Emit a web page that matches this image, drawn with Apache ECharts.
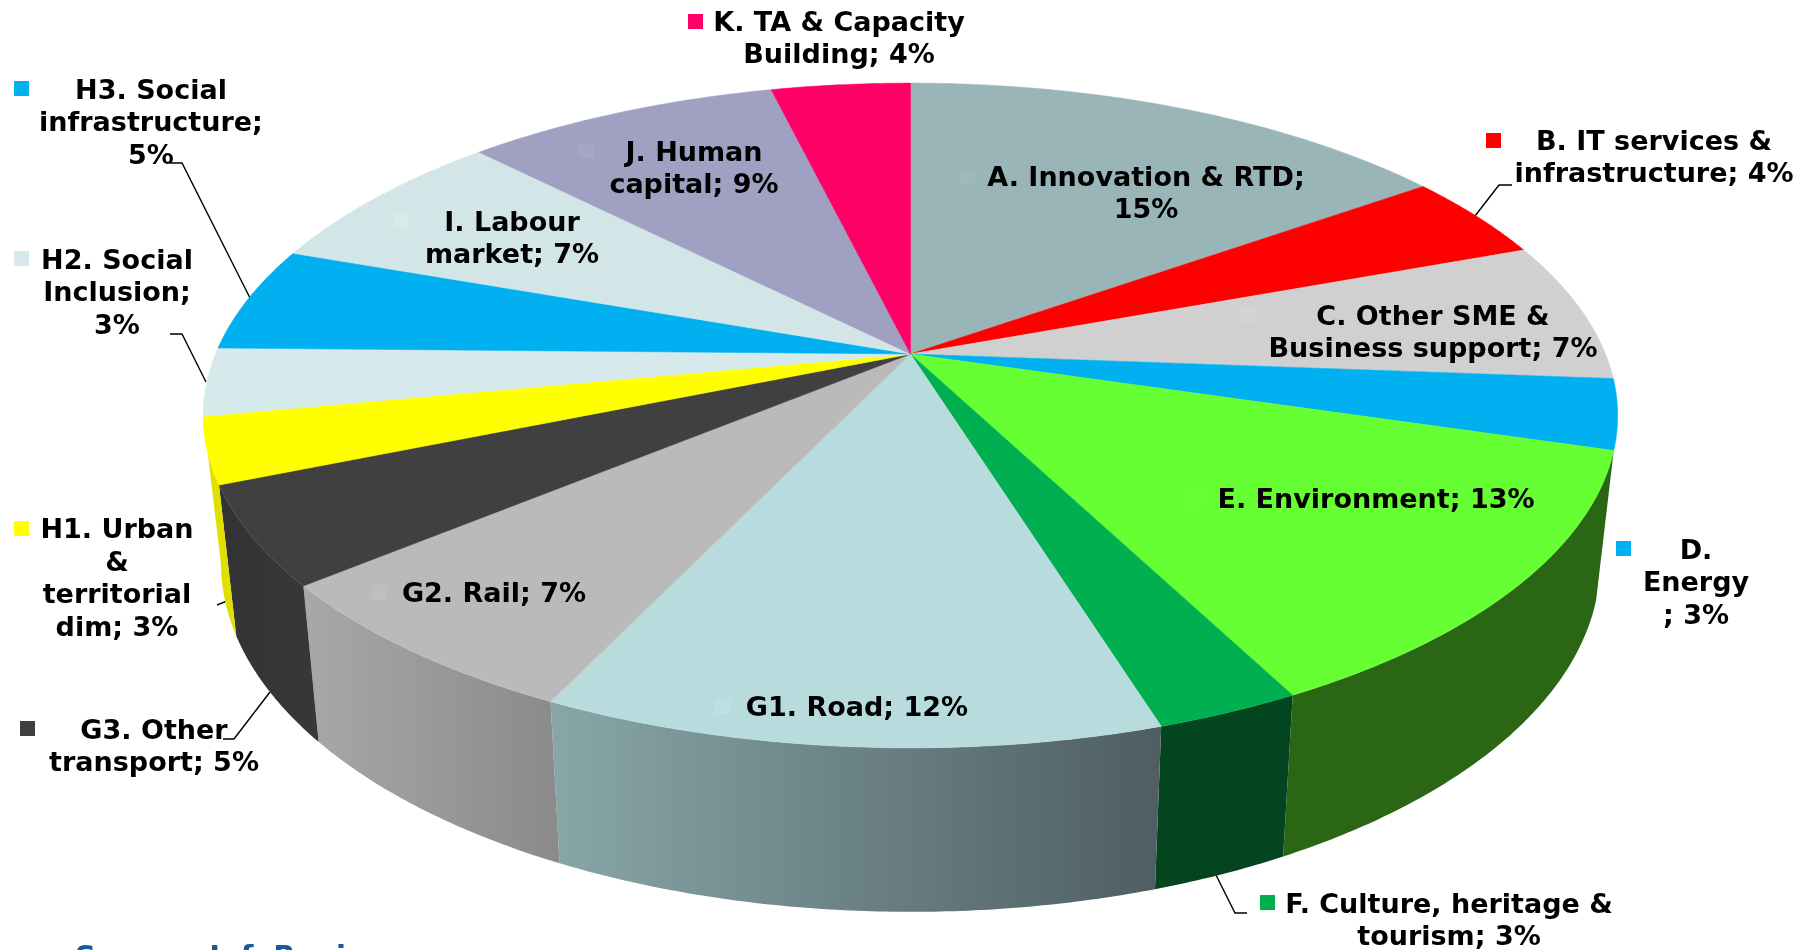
<!DOCTYPE html>
<html><head><meta charset="utf-8">
<style>html,body{margin:0;padding:0;background:#fff}#c{width:1814px;height:950px}</style>
<script src="https://cdn.jsdelivr.net/npm/echarts@6/dist/echarts.min.js"></script>
</head><body><div id="c"></div>
<script>
// ---- data ----
var categories = ['A. Innovation & RTD','B. IT services & infrastructure','C. Other SME & Business support','D. Energy','E. Environment','F. Culture, heritage & tourism','G1. Road','G2. Rail','G3. Other transport','H1. Urban & territorial dim','H2. Social Inclusion','H3. Social infrastructure','I. Labour market','J. Human capital','K. TA & Capacity Building'];
var shares = [15.2,4.2,6.8,3.4,12.8,2.8,11.9,6.9,4.8,3.2,3.3,5.1,7.2,8.6,3.8];
var labelTexts = ['A. Innovation & RTD;\n15%','B. IT services &\ninfrastructure; 4%','C. Other SME &\nBusiness support; 7%','D.\nEnergy\n; 3%','E. Environment; 13%','F. Culture, heritage &\ntourism; 3%','G1. Road; 12%','G2. Rail; 7%','G3. Other\ntransport; 5%','H1. Urban\n&\nterritorial\ndim; 3%','H2. Social\nInclusion;\n3%','H3. Social\ninfrastructure;\n5%','I. Labour\nmarket; 7%','J. Human\ncapital; 9%','K. TA & Capacity\nBuilding; 4%'];
var sourceNote = 'Source: InfoRegio';

// ---- styles and layout ----
var topColors = ['#99b5b7','#ff0000','#d0d0d0','#00b0f0','#66ff33','#00af50','#b8dcde','#bababa','#404040','#ffff00','#d6e9eb','#00b0f0','#d3e6e7','#a0a0c3','#ff0066'];
var keyColors = ['#9fb9bb','#ff0000','#d4d4d4','#00b0f0','#69ff36','#00af50','#bde0e2','#bfbfbf','#404040','#ffff00','#d6e9eb','#00b0f0','#d9eaea','#a5a5c6','#ff0066'];
var wallFrom = [null,null,null,null,'#2b6614','#03451f','#88a6a8','#a8a8a8','#333333','#e0e000',null,null,null,null,null];
var wallTo   = [null,null,null,null,'#2b6614','#03451f','#4e5e62','#8a8a8a','#383838','#e0e000',null,null,null,null,null];
var labelCenters = [[1146,195],[1654,159],[1433,334],[1696,584],[1376,501],[1449,922],[857,709],[494,595],[154,748],[117,580],[117,294],[151,124],[512,240],[694,170],[839,40]];
var keyBoxes = [[960,170],[1486,133],[1240,307],[1616,541],[1187,491],[1260,895],[715,699],[372,585],[20,721],[14,521],[14,251],[14,81],[393,213],[579,143],[688,14]];
var leaders = [
  [[170,163],[182,163],[250,298]],
  [[170,334],[182,334],[206,382]],
  [[217,605],[227,601]],
  [[223,739],[234,739],[270,692]],
  [[1512,185],[1499,185],[1475,216]],
  [[1247,913],[1235,913],[1215,873]]
];
var CX=910.5, CY=354, RX=695, RY=321, PERSP=0.185;
var WALL_SX=0.975, WALL_SY=1.05, WALL_DY=144.3;
var FONT='bold 27px "DejaVu Sans"';

var total = shares.reduce(function(a,b){return a+b;},0);
var cum=[0]; shares.forEach(function(v,i){cum.push(cum[i]+v);});
function topPt(a){ // a: clockwise from 12 o'clock, radians
  var u=Math.sin(a), v=-Math.cos(a), w=1-PERSP*v;
  return [CX+RX*u/w, CY+RY*v/w];
}
function botPt(p){ return [CX+(p[0]-CX)*WALL_SX, CY+WALL_DY+(p[1]-CY)*WALL_SY]; }
function arc(i){
  var a0=cum[i]/total*2*Math.PI, a1=cum[i+1]/total*2*Math.PI, n=Math.max(8,Math.ceil((a1-a0)*120)), r=[];
  for(var k=0;k<=n;k++) r.push(topPt(a0+(a1-a0)*k/n));
  return r;
}
var ids=shares.map(function(_,i){return i;});
function wallItem(params,api){
  var i=api.value(0);
  if(!wallFrom[i]) return {type:'group',children:[]};
  var t=arc(i), b=t.map(botPt).reverse();
  return {type:'polygon',shape:{points:t.concat(b)},style:{
    fill:{type:'linear',x:0,y:0,x2:1,y2:0,colorStops:[{offset:0,color:wallFrom[i]},{offset:1,color:wallTo[i]}]},
    stroke:null}};
}
function topItem(params,api){
  var i=api.value(0);
  return {type:'polygon',shape:{points:[[CX,CY]].concat(arc(i))},style:{fill:topColors[i],stroke:topColors[i],lineWidth:0.5}};
}
function leaderItem(params,api){
  return {type:'polyline',shape:{points:leaders[api.value(0)]},style:{fill:null,stroke:'#000',lineWidth:1.4}};
}
function labelItem(params,api){
  var i=api.value(0);
  return {type:'group',children:[
    {type:'rect',shape:{x:keyBoxes[i][0],y:keyBoxes[i][1],width:15,height:15},style:{fill:keyColors[i]}},
    {type:'text',style:{text:labelTexts[i],x:labelCenters[i][0],y:labelCenters[i][1],align:'center',verticalAlign:'middle',font:FONT,lineHeight:32.5,fill:'#000'}}
  ]};
}
var chart=echarts.init(document.getElementById('c'),null,{renderer:'canvas'});
chart.setOption({
  animation:false,backgroundColor:'#fff',
  graphic:[{type:'text',left:75,top:944,style:{text:sourceNote,font:'bold 29px "DejaVu Sans"',fill:'#1a5a96'}}],
  series:[
    {type:'custom',coordinateSystem:'none',renderItem:leaderItem,data:leaders.map(function(_,i){return [i];}),z:1,silent:true},
    {type:'custom',coordinateSystem:'none',renderItem:wallItem,data:ids.map(function(i){return [i];}),z:2,silent:true},
    {type:'custom',coordinateSystem:'none',renderItem:topItem,data:ids.map(function(i){return {name:categories[i],value:[i,shares[i]]};}),z:3,silent:true},
    {type:'custom',coordinateSystem:'none',renderItem:labelItem,data:ids.map(function(i){return [i];}),z:4,silent:true}
  ]
});
</script></body></html>
